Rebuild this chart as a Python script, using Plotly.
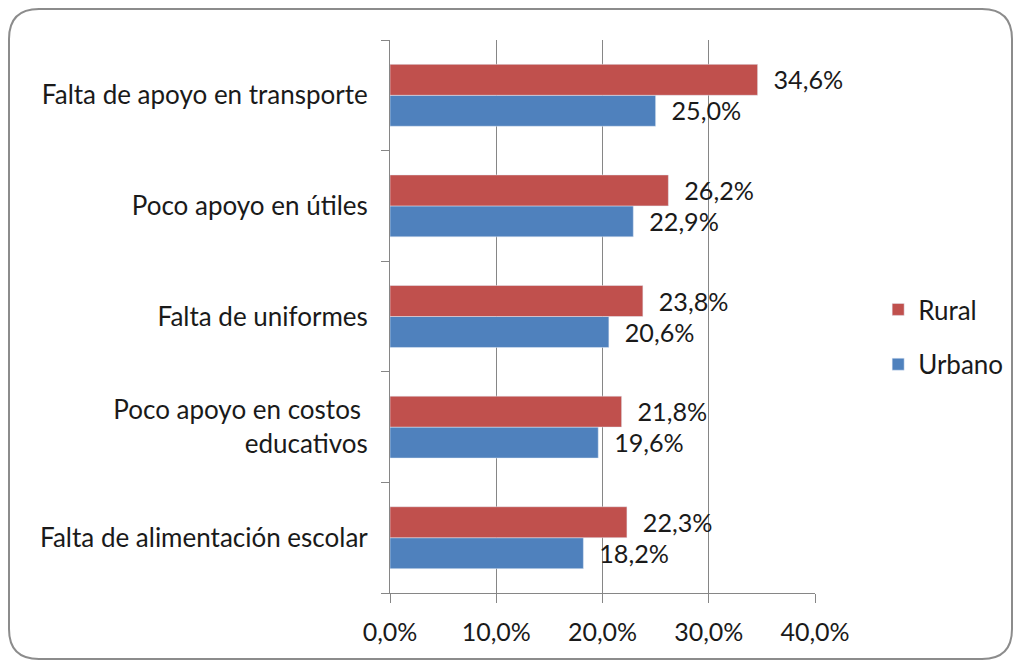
import plotly.graph_objects as go

# Data (bottom to top as drawn)
categories = [
    'Falta de alimentación escolar',
    'Poco apoyo en costos <br>educativos',
    'Falta de uniformes',
    'Poco apoyo en útiles',
    'Falta de apoyo en transporte',
]
urbano = [18.2, 19.6, 20.6, 22.9, 25.0]
rural = [22.3, 21.8, 23.8, 26.2, 34.6]

# page has an 8px body margin, so the figure is drawn 8px smaller
W, H = 1013, 658
L, R, T, B = 382, 807, 32, 585

fig = go.Figure()

# Urbano first so that Rural sits on top inside each group
fig.add_trace(go.Bar(
    y=categories, x=urbano, name='Urbano', orientation='h',
    marker=dict(color='#4F81BD'), legendgroup='u', legendrank=2,
    texttemplate='  %{x:.1f}%', textposition='outside', cliponaxis=False,
    textfont=dict(size=26, color='#1a1a1a'),
))
fig.add_trace(go.Bar(
    y=categories, x=rural, name='Rural', orientation='h',
    marker=dict(color='#C0504D'), legendgroup='r', legendrank=1,
    texttemplate='  %{x:.1f}%', textposition='outside', cliponaxis=False,
    textfont=dict(size=26, color='#1a1a1a'),
))

# Rounded border around the whole chart (pixel -> paper coords)
def px(x):
    return (x - L) / (R - L)

def py(y):
    return (B - y) / (B - T)

x0, x1, y0, y1, r = 1, 1004, 1, 651, 30
path = (
    f'M {px(x0 + r)} {py(y0)} L {px(x1 - r)} {py(y0)} '
    f'Q {px(x1)} {py(y0)} {px(x1)} {py(y0 + r)} '
    f'L {px(x1)} {py(y1 - r)} Q {px(x1)} {py(y1)} {px(x1 - r)} {py(y1)} '
    f'L {px(x0 + r)} {py(y1)} Q {px(x0)} {py(y1)} {px(x0)} {py(y1 - r)} '
    f'L {px(x0)} {py(y0 + r)} Q {px(x0)} {py(y0)} {px(x0 + r)} {py(y0)} Z'
)
fig.add_shape(type='path', path=path, xref='paper', yref='paper',
              line=dict(color='#8c8c8c', width=2), layer='below')

fig.update_layout(
    width=W, height=H,
    margin=dict(l=L, r=W - R, t=T, b=H - B, autoexpand=False),
    barmode='group', bargap=0.44, bargroupgap=0,
    separators=',.',
    plot_bgcolor='white', paper_bgcolor='rgba(0,0,0,0)',
    font=dict(family='Lato, Open Sans, sans-serif', size=26, color='#1a1a1a'),
    legend=dict(
        xref='container', yref='container',
        x=0.859, y=0.5, xanchor='left', yanchor='middle',
        traceorder='grouped', tracegroupgap=18,
        font=dict(size=26), itemwidth=30, bgcolor='rgba(0,0,0,0)',
    ),
    xaxis=dict(
        range=[0, 40], dtick=10, tickformat='.1f', ticksuffix='%',
        showgrid=True, gridcolor='#868686', gridwidth=1,
        showline=True, linecolor='#868686', linewidth=1,
        ticks='outside', ticklen=9, tickcolor='#868686',
        zeroline=False, fixedrange=True, tickfont=dict(size=25),
        ticklabelstandoff=8,
    ),
    yaxis=dict(
        showline=True, linecolor='#868686', linewidth=1,
        ticks='outside', ticklen=8, tickcolor='#868686',
        tickson='boundaries', showgrid=False, fixedrange=True,
        ticklabelstandoff=16, tickfont=dict(size=26),
    ),
)

fig.write_html('out.html')
